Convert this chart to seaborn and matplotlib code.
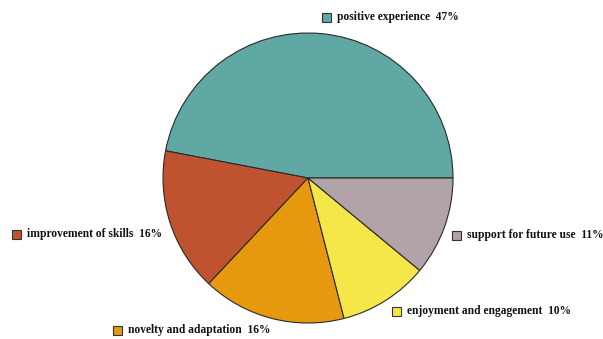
import matplotlib
matplotlib.use("Agg")
import matplotlib.pyplot as plt
from matplotlib.patches import Rectangle
import seaborn as sns

categories = ["positive experience", "improvement of skills", "novelty and adaptation",
              "enjoyment and engagement", "support for future use"]
shares = [47, 16, 16, 10, 11]
colors = ["#5fa8a3", "#c0532f", "#e6990f", "#f5e64a", "#b1a3a7"]

# label anchor (left edge of the colour key) for each category, in pixel units
label_pos = [(322, 17), (12, 234), (113, 330), (392, 311), (452, 235)]

sns.set_theme(style="white")
plt.rcParams["font.family"] = ["Liberation Serif", "DejaVu Serif"]

fig = plt.figure(figsize=(6.03, 3.39), dpi=100)
ax = fig.add_axes([0, 0, 1, 1])

H = 339
ax.pie(shares, colors=colors, startangle=0, counterclock=True,
       center=(308, H - 178), radius=145, frame=True,
       wedgeprops=dict(edgecolor="#2a2a2a", linewidth=0.8))
ax.set_xlim(0, 603)
ax.set_ylim(0, 339)
ax.set_aspect("equal")
ax.axis("off")

for name, val, col, (x, y) in zip(categories, shares, colors, label_pos):
    ax.add_patch(Rectangle((x, H - y - 4.5), 9, 9, facecolor=col,
                           edgecolor="#333333", linewidth=0.8))
    ax.text(x + 15, H - y, f"{name}  {val}%", fontsize=8.3, fontweight="bold",
            ha="left", va="center", color="#111111")

fig.savefig("out.png", dpi=100)
